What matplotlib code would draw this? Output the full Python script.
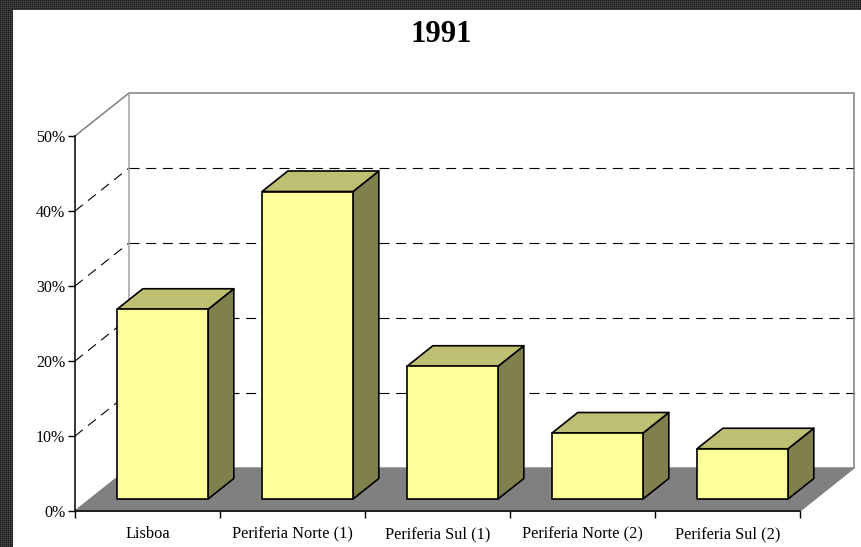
import numpy as np
import matplotlib
matplotlib.use("Agg")
import matplotlib.pyplot as plt
from matplotlib.patches import Polygon, Rectangle

# =========================
# DATA
# =========================
categories = ["Lisboa", "Periferia Norte (1)", "Periferia Sul (1)",
              "Periferia Norte (2)", "Periferia Sul (2)"]
values = [25.3, 41.0, 17.7, 8.8, 6.7]
y_ticks = [0, 10, 20, 30, 40, 50]
y_labels = ["0%", "10%", "20%", "30%", "40%", "50%"]
title = "1991"

W, H = 861, 547
plt.rcParams["font.family"] = ["Liberation Serif", "DejaVu Serif"]

fig = plt.figure(figsize=(W / 100, H / 100), dpi=100)

# dark dotted border behind the white page
tile = np.array([[0.10, 0.20, 0.13, 0.20],
                 [0.20, 0.30, 0.20, 0.26],
                 [0.13, 0.20, 0.10, 0.20],
                 [0.20, 0.26, 0.20, 0.30]])
border = np.tile(tile, (H // 4 + 1, W // 4 + 1))[:H, :W]
fig.figimage(border, cmap="gray", vmin=0, vmax=1, zorder=-2)
fig.add_artist(Rectangle((13 / W, 0), 1 - 13 / W, 1 - 10 / H,
                         transform=fig.transFigure, fc="white", ec="none", zorder=-1))

# axes box = front plane of the 3D chart
ax = fig.add_axes([75 / W, 1 - 511 / H, 725 / W, 375 / H], facecolor="none", zorder=2)
ax.set_xlim(0, 5)
ax.set_ylim(0, 50)

# depth offset of the chart, in data units
dx = 54 / 145
dy = 43 / 7.5


def oblique(x, y, d):
    return (x + dx * d, y + dy * d)


# =========================
# WALLS AND FLOOR
# =========================
floor = [oblique(0, 0, 0), oblique(5, 0, 0), oblique(5, 0, 1), oblique(0, 0, 1)]
ax.add_patch(Polygon(floor, fc="#808080", ec="#808080", lw=1, clip_on=False, zorder=1))

for tick in y_ticks[1:-1]:
    a, b = oblique(0, tick, 0), oblique(0, tick, 1)
    c = oblique(5, tick, 1)
    ax.plot([a[0], b[0]], [a[1], b[1]], color="black", lw=0.8, dashes=(9, 6), clip_on=False, zorder=1)
    ax.plot([b[0], c[0]], [b[1], c[1]], color="black", lw=0.8, dashes=(9, 6), clip_on=False, zorder=1)

a, b = oblique(0, 50, 0), oblique(0, 50, 1)
c, d = oblique(5, 50, 1), oblique(5, 0, 1)
e = oblique(0, 0, 1)
ax.plot([a[0], b[0], c[0], d[0]], [a[1], b[1], c[1], d[1]], color="#808080", lw=1.1, clip_on=False, zorder=1)
ax.plot([b[0], e[0]], [b[1], e[1]], color="#a0a0a0", lw=1.1, clip_on=False, zorder=1)

# =========================
# BARS
# =========================
bar_w = 91 / 145
gap = (1 - bar_w) / 2
d0, d1 = 12 / 43, 32.5 / 43

for i, val in enumerate(values):
    x0, x1 = i + gap, i + gap + bar_w
    front = [oblique(x0, 0, d0), oblique(x1, 0, d0), oblique(x1, val, d0), oblique(x0, val, d0)]
    top = [oblique(x0, val, d0), oblique(x1, val, d0), oblique(x1, val, d1), oblique(x0, val, d1)]
    side = [oblique(x1, 0, d0), oblique(x1, 0, d1), oblique(x1, val, d1), oblique(x1, val, d0)]
    ax.add_patch(Polygon(side, fc="#80804d", ec="black", lw=1.2, clip_on=False, zorder=3, joinstyle="round"))
    ax.add_patch(Polygon(top, fc="#bfbf73", ec="black", lw=1.2, clip_on=False, zorder=3, joinstyle="round"))
    ax.add_patch(Polygon(front, fc="#ffff99", ec="black", lw=1.2, clip_on=False, zorder=4, joinstyle="round"))

# =========================
# AXES
# =========================
for side_name in ["top", "right"]:
    ax.spines[side_name].set_visible(False)
for side_name in ["left", "bottom"]:
    ax.spines[side_name].set_linewidth(1.1)
    ax.spines[side_name].set_zorder(5)

ax.set_yticks(y_ticks)
ax.set_yticklabels(y_labels, fontsize=11.5)
ax.set_xticks(range(6))
ax.set_xticklabels([])
ax.set_xticks(np.arange(5) + 0.5, minor=True)
ax.set_xticklabels(categories, minor=True, fontsize=11.8, va="baseline")
ax.tick_params(axis="x", which="minor", length=0, pad=19.4)
ax.tick_params(axis="x", which="major", length=5, width=1)
ax.tick_params(axis="y", length=5, width=1, pad=2)

fig.text(441 / W, 1 - 34 / H, title, ha="center", va="center", fontsize=22, fontweight="bold")

fig.savefig("out.png", dpi=100)
